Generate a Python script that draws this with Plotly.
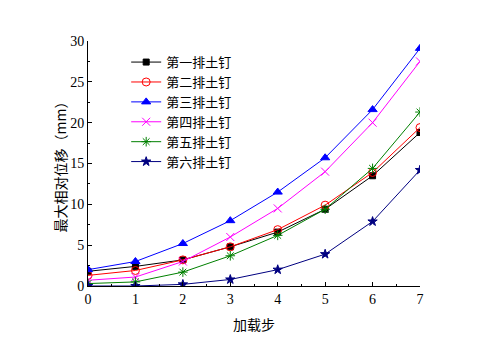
import plotly.graph_objects as go

steps = [0, 1, 2, 3, 4, 5, 6, 7]
names = ["第一排土钉", "第二排土钉", "第三排土钉", "第四排土钉", "第五排土钉", "第六排土钉"]
row1 = [1.8, 2.4, 3.2, 4.8, 6.6, 9.4, 13.5, 18.8]
row2 = [1.3, 1.9, 3.2, 4.8, 6.9, 9.9, 13.9, 19.4]
row3 = [2.0, 3.0, 5.2, 8.0, 11.5, 15.7, 21.6, 29.1]
row4 = [0.7, 1.1, 3.0, 6.0, 9.5, 14.0, 20.0, 27.5]
row5 = [0.3, 0.5, 1.7, 3.7, 6.2, 9.4, 14.4, 21.3]
row6 = [0.0, 0.0, 0.2, 0.8, 2.0, 3.9, 7.9, 14.2]

series = [row1, row2, row3, row4, row5, row6]
colors = ["#000000", "#ff0000", "#0000ff", "#ff00ff", "#008000", "#000080"]
symbols = ["square", "circle-open", "triangle-up", "x-thin-open", "asterisk-open", "star"]
sizes = [6, 8, 8, 8, 8, 7]

fig = go.Figure()
for n, s, c, sym, sz in zip(names, series, colors, symbols, sizes):
    fig.add_trace(go.Scatter(
        x=steps, y=s, name=n, mode="lines+markers",
        line=dict(color=c, width=1),
        marker=dict(symbol=sym, size=sz, color=c, line=dict(color=c, width=1)),
    ))

tickfont = dict(family="Liberation Serif, Times New Roman, serif", size=14, color="#000")
titlefont = dict(size=14, family="Noto Sans CJK SC", color="#000000")
fig.update_layout(
    width=493, height=348,
    margin=dict(l=88, r=73, t=41, b=62),
    paper_bgcolor="white", plot_bgcolor="white",
    font=dict(family="Noto Sans CJK SC, Liberation Serif", size=13, color="#000000"),
    legend=dict(x=0.115, y=0.975, xanchor="left", yanchor="top",
                bgcolor="rgba(0,0,0,0)", font=dict(size=13, family="Noto Sans CJK SC", color="#000000"),
                tracegroupgap=0, itemsizing="trace"),
    xaxis=dict(range=[0, 7], dtick=1, tick0=0, showgrid=False, zeroline=False,
               showline=True, linecolor="#000", linewidth=1,
               ticks="inside", ticklen=4, tickcolor="#000", tickfont=tickfont,
               minor=dict(ticks="inside", dtick=0.5, ticklen=2, tickcolor="#000"),
               title=dict(text="加载步", font=titlefont, standoff=14)),
    yaxis=dict(range=[0, 30], dtick=5, tick0=0, showgrid=False, zeroline=False,
               showline=True, linecolor="#000", linewidth=1,
               ticks="inside", ticklen=4, tickcolor="#000", tickfont=tickfont,
               minor=dict(ticks="inside", dtick=2.5, ticklen=2, tickcolor="#000"),
               title=dict(text="最大相对位移（mm）", font=titlefont, standoff=0)),
)
fig.write_html("out.html")
